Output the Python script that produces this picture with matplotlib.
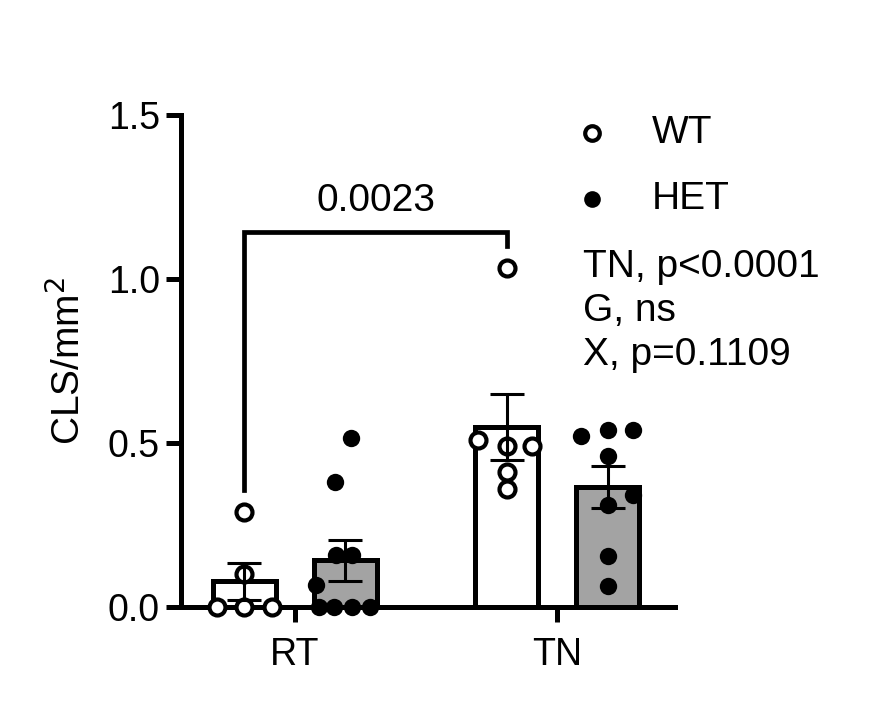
import numpy as np
import matplotlib.pyplot as plt

plt.rcParams['font.family'] = ['Liberation Sans', 'DejaVu Sans']

groups = ['RT', 'TN']
genotypes = ['WT', 'HET']

# per-animal values (CLS/mm^2)
rt_wt = [0.29, 0.10, 0.0, 0.0, 0.0]
rt_het = [0.515, 0.38, 0.157, 0.157, 0.067, 0.0, 0.0, 0.0, 0.0]
tn_wt = [1.035, 0.51, 0.49, 0.49, 0.41, 0.36]
tn_het = [0.52, 0.54, 0.54, 0.46, 0.34, 0.31, 0.155, 0.064]

# horizontal jitter of the dots inside each bar (layout only)
rt_wt_dx = [0.0, 0.0, -0.27, 0.0, 0.27]
rt_het_dx = [0.06, -0.10, -0.09, 0.07, -0.29, -0.26, -0.11, 0.07, 0.24]
tn_wt_dx = [0.0, -0.28, 0.0, 0.25, 0.0, 0.0]
tn_het_dx = [-0.26, 0.0, 0.25, 0.0, 0.25, 0.0, 0.0, 0.0]

pval_bracket = '0.0023'
stats_text = ['TN, p<0.0001', 'G, ns', 'X, p=0.1109']

group_x = np.array([1.0, 3.6])
offset = 0.5
width = 0.62
colors = {'WT': 'white', 'HET': '#a3a3a3'}
fs = 28

fig = plt.figure(figsize=(8.78, 7.25), dpi=100)
ax = fig.add_axes([0.206, 0.163, 0.563, 0.678])

data = {('RT', 'WT'): (rt_wt, rt_wt_dx), ('RT', 'HET'): (rt_het, rt_het_dx),
        ('TN', 'WT'): (tn_wt, tn_wt_dx), ('TN', 'HET'): (tn_het, tn_het_dx)}

for gi, g in enumerate(groups):
    for k, gt in enumerate(genotypes):
        vals, dx = data[(g, gt)]
        vals = np.array(vals)
        x = group_x[gi] + (-offset if gt == 'WT' else offset)
        mean = vals.mean()
        sem = vals.std(ddof=1) / np.sqrt(len(vals))
        ax.bar(x, mean, width=width, color=colors[gt], edgecolor='black',
               linewidth=3.6, zorder=2)
        if gt == 'WT':
            ax.plot(x + np.array(dx), vals, 'o', ms=11.5, mfc='white', mec='black',
                    mew=3.0, zorder=3, clip_on=False)
        else:
            ax.plot(x + np.array(dx), vals, 'o', ms=12.5, mfc='black', mec='black',
                    mew=0, zorder=3, clip_on=False)
        ax.errorbar(x, mean, yerr=sem, fmt='none', ecolor='black', elinewidth=2.2,
                    capsize=12, capthick=2.2, zorder=4)

# significance bracket
x_l = group_x[0] - offset
x_r = group_x[1] - offset
ax.plot([x_l, x_l, x_r, x_r], [0.357, 1.143, 1.143, 1.10], color='black',
        lw=3.4, solid_joinstyle='miter', zorder=3)
ax.text((x_l + x_r) / 2, 1.185, pval_bracket, ha='center', va='bottom', fontsize=fs)

ax.set_xlim(-0.13, 4.77)
ax.set_ylim(0, 1.5)
ax.set_yticks([0.0, 0.5, 1.0, 1.5])
ax.set_yticklabels(['0.0', '0.5', '1.0', '1.5'])
ax.set_xticks(group_x)
ax.set_xticklabels(groups)
ax.set_ylabel('CLS/mm$^2$', fontsize=fs, labelpad=14)
ax.tick_params(axis='both', labelsize=27, width=3.6, length=11)
ax.tick_params(axis='y', pad=4)
ax.tick_params(axis='x', pad=11)
for s in ['top', 'right']:
    ax.spines[s].set_visible(False)
for s in ['left', 'bottom']:
    ax.spines[s].set_linewidth(3.6)

# legend and stats text
ax.plot([3.95], [1.445], 'o', ms=10.5, mfc='white', mec='black', mew=3.0, clip_on=False)
ax.plot([3.95], [1.244], 'o', ms=12, mfc='black', mec='black', mew=0, clip_on=False)
ax.text(4.54, 1.445, genotypes[0], va='center', fontsize=fs, clip_on=False)
ax.text(4.54, 1.244, genotypes[1], va='center', fontsize=fs, clip_on=False)
for i, line in enumerate(stats_text):
    ax.text(3.86, 1.037 - i * 0.135, line, va='center', fontsize=fs,
            clip_on=False)

fig.savefig('out.png', dpi=100)
